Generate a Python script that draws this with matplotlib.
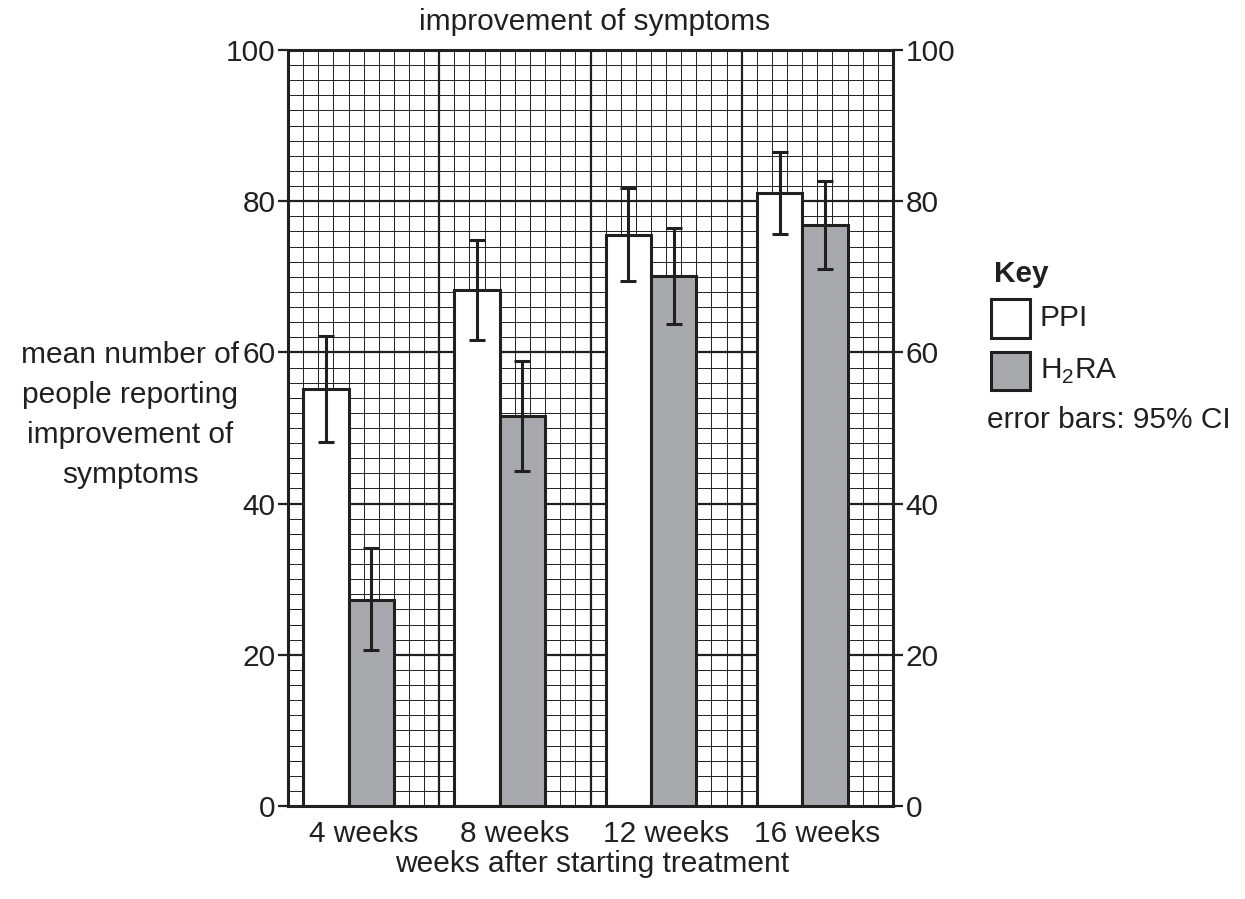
import numpy as np
import matplotlib
matplotlib.use("Agg")
import matplotlib.pyplot as plt
from matplotlib.patches import Rectangle

plt.rcParams['font.family'] = ['Liberation Sans', 'DejaVu Sans']
plt.rcParams['mathtext.fontset'] = 'custom'
plt.rcParams['mathtext.rm'] = 'Liberation Sans'

categories = ["4 weeks", "8 weeks", "12 weeks", "16 weeks"]
ppi_mean = [55.1, 68.3, 75.5, 81.1]
ppi_low = [48.1, 61.7, 69.4, 75.7]
ppi_high = [62.2, 74.9, 81.7, 86.5]
h2ra_mean = [27.2, 51.6, 70.1, 76.8]
h2ra_low = [20.6, 44.3, 63.7, 71.0]
h2ra_high = [34.1, 58.9, 76.5, 82.7]
y_ticks = [0, 20, 40, 60, 80, 100]

INK = '#231f20'
GREY = '#a7a9ac'
FS = 21.5

fig = plt.figure(figsize=(12.45, 8.99), dpi=100)
ax = fig.add_axes([288/1245, 1-806/899, 605/1245, 756/899])

x = np.arange(len(categories))
w = 0.3

# grid
for gx in np.arange(-0.5, 3.51, 0.1):
    ax.axvline(gx, color=INK, lw=0.7, zorder=0)
for gx in [0.5, 1.5, 2.5]:
    ax.axvline(gx, color=INK, lw=1.6, zorder=0.5)
for gy in np.arange(0, 100.1, 2):
    ax.axhline(gy, color=INK, lw=0.7, zorder=0)
for gy in [20, 40, 60, 80]:
    ax.axhline(gy, color=INK, lw=1.6, zorder=0.5)

def errs(mean, low, high):
    m = np.array(mean); return [m - np.array(low), np.array(high) - m]

ax.bar(x - 0.25, ppi_mean, width=w, color='white', edgecolor=INK, linewidth=2.2, zorder=2)
ax.bar(x + 0.05, h2ra_mean, width=w, color=GREY, edgecolor=INK, linewidth=2.2, zorder=2)
ax.errorbar(x - 0.25, ppi_mean, yerr=errs(ppi_mean, ppi_low, ppi_high), fmt='none',
            ecolor=INK, elinewidth=2.2, capsize=5.5, capthick=2.2, zorder=3)
ax.errorbar(x + 0.05, h2ra_mean, yerr=errs(h2ra_mean, h2ra_low, h2ra_high), fmt='none',
            ecolor=INK, elinewidth=2.2, capsize=5.5, capthick=2.2, zorder=3)

ax.set_xlim(-0.5, 3.5)
ax.set_ylim(0, 100)
ax.set_yticks(y_ticks)
ax.set_xticks(x)
ax.set_xticklabels(categories)
for s in ax.spines.values():
    s.set_linewidth(2.2)
    s.set_color(INK)
    s.set_zorder(4)
ax.tick_params(axis='y', which='both', direction='out', length=7, width=1.6, color=INK,
               labelsize=FS, labelcolor=INK, right=True, labelright=True, pad=2)
ax.tick_params(axis='x', length=0, labelsize=FS, labelcolor=INK, pad=10)

fig.text(595/1245, 1-22/899, "improvement of symptoms", ha='center', va='center', fontsize=FS, color=INK)
fig.text(592/1245, 1-864/899, "weeks after starting treatment", ha='center', va='center', fontsize=FS, color=INK)
fig.text(130/1245, 1-415/899, "mean number of\npeople reporting\nimprovement of\nsymptoms",
         ha='center', va='center', multialignment='center', fontsize=FS, color=INK, linespacing=1.55)

# key
fig.text(994/1245, 1-274/899, "Key", ha='left', va='center', fontsize=FS, fontweight='bold', color=INK)
fig.patches.append(Rectangle((991/1245, 1-338/899), 39/1245, 39/899, transform=fig.transFigure,
                             facecolor='white', edgecolor=INK, linewidth=2.2))
fig.patches.append(Rectangle((991/1245, 1-390/899), 39/1245, 38/899, transform=fig.transFigure,
                             facecolor=GREY, edgecolor=INK, linewidth=2.2))
fig.text(1040/1245, 1-318/899, "PPI", ha='left', va='center', fontsize=FS, color=INK)
fig.text(1040/1245, 1-371/899, r"H$_\mathregular{2}$RA", ha='left', va='center', fontsize=FS, color=INK)
fig.text(987/1245, 1-420/899, "error bars: 95% CI", ha='left', va='center', fontsize=FS, color=INK)

fig.savefig("out.png", dpi=100)
